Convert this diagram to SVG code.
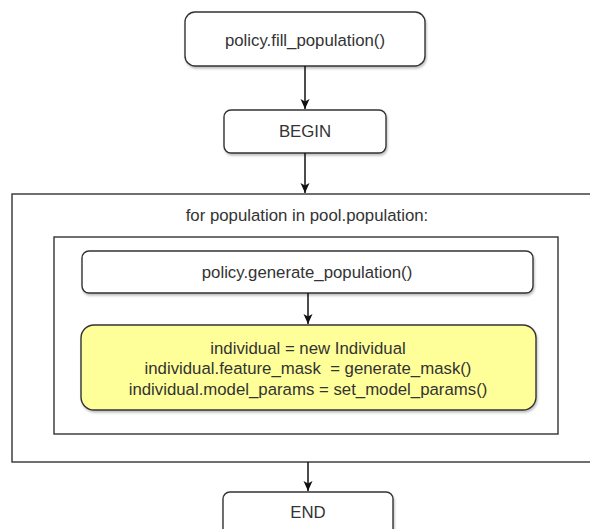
<svg xmlns="http://www.w3.org/2000/svg" width="590" height="529" viewBox="0 0 590 529">
<defs>
<style>
.box{fill:#ffffff;stroke:#333333;stroke-width:1.4}
.frame{fill:#ffffff;stroke:#333333;stroke-width:1.4}
.yel{fill:#ffff99;stroke:#333333;stroke-width:1.4}
.t{font-family:"Liberation Sans",Arial,sans-serif;font-size:16.8px;fill:#333333;text-anchor:middle;dominant-baseline:central;white-space:pre}
.edge{stroke:#111111;stroke-width:1.5;fill:none}
</style>
<marker id="ah" markerWidth="11" markerHeight="11" refX="10" refY="5.5" orient="auto" markerUnits="userSpaceOnUse">
<path d="M0,1 L10,5.5 L0,10 L2.5,5.5 Z" fill="#111111"/>
</marker>
<filter id="sh" x="-5%" y="-10%" width="110%" height="130%">
<feDropShadow dx="1" dy="2" stdDeviation="1" flood-color="#000000" flood-opacity="0.25"/>
</filter>
</defs>
<g id="loop">
<rect class="frame" x="12" y="194" width="600" height="268"/>
<text class="t" x="307" y="215">for population in pool.population:</text>
</g>
<g id="inner">
<rect class="frame" x="54" y="237" width="504" height="197"/>
</g>
<g id="fill_population">
<rect class="box" x="185" y="12" width="240" height="54" rx="10" filter="url(#sh)"/>
<text class="t" x="305" y="40">policy.fill_population()</text>
</g>
<g id="begin">
<rect class="box" x="224" y="110" width="162" height="43" rx="7" filter="url(#sh)"/>
<text class="t" x="305" y="131">BEGIN</text>
</g>
<g id="generate_population">
<rect class="box" x="82" y="251" width="451" height="42" rx="7" filter="url(#sh)"/>
<text class="t" x="307" y="272">policy.generate_population()</text>
</g>
<g id="individual">
<rect class="yel" x="81" y="325" width="455" height="85" rx="13" filter="url(#sh)"/>
<text class="t" x="308" y="348">individual = new Individual</text>
<text class="t" x="308" y="368">individual.feature_mask  = generate_mask()</text>
<text class="t" x="308" y="389">individual.model_params = set_model_params()</text>
</g>
<g id="end">
<rect class="box" x="223" y="492" width="170" height="50" rx="7" filter="url(#sh)"/>
<text class="t" x="308" y="512">END</text>
</g>
<g id="connectors">
<line class="edge" x1="305" y1="66" x2="305" y2="109" marker-end="url(#ah)"/>
<line class="edge" x1="305" y1="153" x2="305" y2="193" marker-end="url(#ah)"/>
<line class="edge" x1="308" y1="293" x2="308" y2="324" marker-end="url(#ah)"/>
<line class="edge" x1="308" y1="462" x2="308" y2="491" marker-end="url(#ah)"/>
</g>
</svg>
